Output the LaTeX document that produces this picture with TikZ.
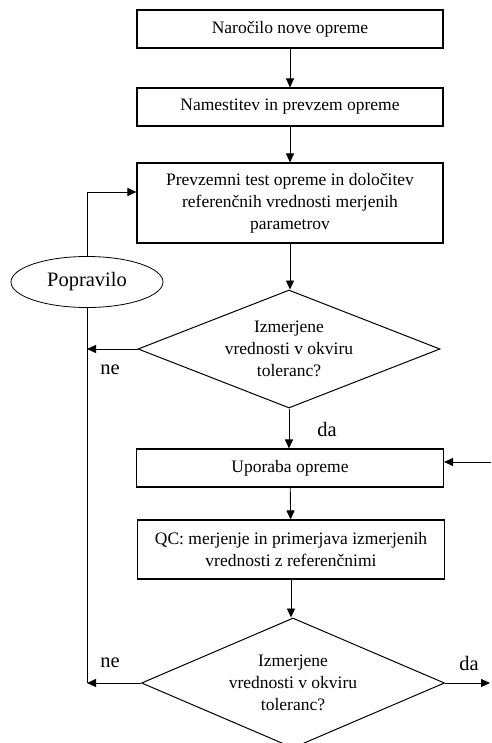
\documentclass[tikz,border=0pt]{standalone}
\usepackage{fontspec}
\setmainfont{Liberation Serif}
\usepackage{tikz}
\usetikzlibrary{calc,arrows.meta,positioning,shapes.geometric}

\begin{document}
\begin{tikzpicture}[x=1pt,y=1pt]
            \tikzstyle{every node}+=[font=\fontsize{17.5}{22}\selectfont]
            \tikzstyle{box}=[draw,line width=1.1pt,rectangle,minimum width=306,align=center,inner sep=0pt]
            \tikzstyle{decision}=[draw,line width=1pt,diamond,align=center,inner sep=0pt]
            \tikzstyle{repair}=[draw,line width=0.8pt,ellipse,minimum width=152,minimum height=51,inner sep=0pt,font=\fontsize{20.5}{24}\selectfont]
            \tikzstyle{answer}=[font=\fontsize{20.5}{24}\selectfont]
            \tikzstyle{arr}=[line width=0.9pt,-{Triangle[length=9pt,width=8pt]}]
            \useasboundingbox (0,0) rectangle (491,-743);
            \node [box,minimum height=38] (order) at (290,-29) {Naročilo nove opreme};
            \node [box,minimum height=38] (install) at (290,-107) {Namestitev in prevzem opreme};
            \node [box,minimum height=80] (accept) at (290,-203) {Prevzemni test opreme in določitev\\referenčnih vrednosti merjenih\\parametrov};
            \node [decision,aspect=2.56,minimum width=302,minimum height=118] (check1) at (289,-349) {Izmerjene\\vrednosti v okviru\\toleranc?};
            \node [repair] (fix) at (87,-282) {Popravilo};
            \node [box,minimum width=307,minimum height=38] (use) at (290,-468) {Uporaba opreme};
            \node [box,minimum width=307,minimum height=59] (qc) at (291,-549.5) {QC: merjenje in primerjava izmerjenih\\vrednosti z referenčnimi};
            \node [decision,aspect=2.33,minimum width=303,minimum height=130] (check2) at (293,-683) {Izmerjene\\vrednosti v okviru\\toleranc?};
            \coordinate (lbot) at (87,-683);
            \coordinate (rin) at (491,-462);
            \coordinate (rout) at (490,-683);
            % main chain
            \draw [arr] (order) -- (install);
            \draw [arr] (install) -- (accept);
            \draw [arr] (accept.south) -- (accept.south |- check1.north);
            \draw [arr] (check1.south) -- (check1.south |- use.north);
            \draw [arr] (use) -- (qc);
            \draw [arr] (qc.south) -- (qc.south |- check2.north);
            % labels and side loops
            \node [answer] (da1) at (327,-429) {da};
            \draw [arr] (check1.west) -- (check1.west -| lbot);
            \node [answer] (ne1) at (110,-370) {ne};
            \draw [arr] (check2.west) -- (lbot);
            \node [answer] (ne2) at (110,-663) {ne};
            \draw [arr] (check2.east) -- (rout);
            \node [answer] (da2) at (469,-663) {da};
            \draw [line width=0.9pt] (fix.south) -- (lbot);
            \draw [arr] (fix.north) |- ([yshift=11pt]accept.west);
            \draw [arr] (rin) -- (use.east |- rin);
\end{tikzpicture}
\end{document}
